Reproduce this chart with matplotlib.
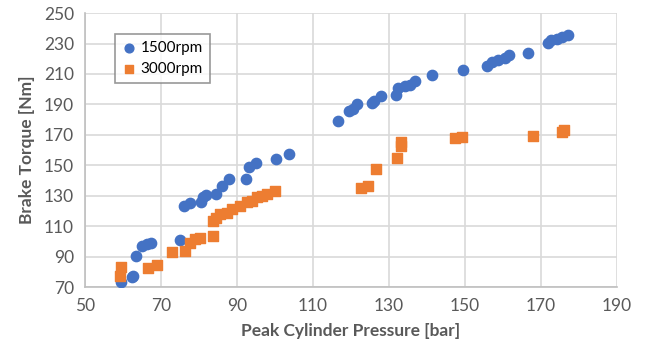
import matplotlib
matplotlib.use('Agg')
import matplotlib.pyplot as plt

# 1500 rpm: peak cylinder pressure [bar], brake torque [Nm]
p1500 = [59.5, 62.3, 62.7, 63.4, 64.9, 66.2, 67.4, 75.0, 76.0, 77.6, 80.4, 81.1, 81.8,
         84.5, 86.0, 88.0, 92.4, 93.2, 94.9, 100.3, 103.6, 116.7, 119.6, 120.6, 121.7,
         125.4, 126.0, 127.9, 131.8, 132.4, 134.2, 135.5, 136.8, 141.2, 149.4, 155.7,
         157.0, 158.8, 160.5, 161.7, 166.7, 171.9, 172.5, 174.1, 175.4, 177.2]
t1500 = [73.5, 76.8, 77.5, 90.6, 97.0, 98.0, 99.0, 101.0, 123.6, 125.0, 126.0, 128.9, 130.6,
         131.0, 136.6, 141.2, 141.2, 148.6, 151.7, 153.9, 157.5, 178.8, 185.6, 187.1, 190.0,
         190.8, 192.2, 195.5, 196.0, 200.8, 201.9, 202.5, 205.1, 209.1, 212.4, 215.0,
         217.9, 219.0, 220.5, 222.3, 224.1, 230.4, 232.6, 233.3, 234.0, 235.5]

# 3000 rpm
p3000 = [59.2, 59.6, 66.7, 68.9, 72.8, 76.3, 77.6, 78.9, 80.3, 83.6, 83.8, 84.6, 85.5,
         87.3, 88.6, 90.8, 92.5, 93.9, 95.2, 96.5, 97.8, 100.0, 122.6, 124.4, 126.6,
         132.0, 133.2, 133.2, 147.4, 149.3, 167.8, 175.4, 176.0]
t3000 = [77.3, 83.2, 82.7, 84.5, 92.8, 93.7, 99.2, 101.4, 102.5, 103.4, 113.5, 115.3, 118.0,
         119.0, 121.2, 123.4, 125.6, 126.7, 128.9, 130.0, 131.1, 133.3, 135.0, 136.6, 147.6,
         154.6, 162.5, 165.6, 167.8, 168.5, 169.5, 172.2, 173.3]

xticks = list(range(50, 191, 20))
yticks = list(range(70, 251, 20))

plt.rcParams['font.family'] = ['Lato', 'DejaVu Sans']

fig = plt.figure(figsize=(6.45, 3.54), dpi=100)
ax = fig.add_axes([0.1318, 0.189, 0.8248, 0.774])

ax.scatter(p1500, t1500, s=55, marker='o', color='#4472C4', label='1500rpm', zorder=3)
ax.scatter(p3000, t3000, s=42, marker='s', color='#ED7D31', label='3000rpm', zorder=3)

ax.set_xlim(50, 190)
ax.set_ylim(70, 250)
ax.set_xticks(xticks)
ax.set_yticks(yticks)
ax.grid(True, color='#D9D9D9', linewidth=1.2, zorder=0)
ax.set_axisbelow(True)
for s in ['top', 'right']:
    ax.spines[s].set_visible(False)
for s in ['left', 'bottom']:
    ax.spines[s].set_color('#BFBFBF')
    ax.spines[s].set_linewidth(1.2)
ax.tick_params(length=0, labelsize=12.5, colors='#595959', pad=8)

ax.set_xlabel('Peak Cylinder Pressure [bar]', fontsize=12.5, fontweight='bold', color='#595959', labelpad=6)
ax.set_ylabel('Brake Torque [Nm]', fontsize=12.5, fontweight='bold', color='#595959', labelpad=6)

leg = ax.legend(loc='upper left', bbox_to_anchor=(0.056, 0.923), borderaxespad=0, frameon=True,
                fancybox=False, fontsize=11, handletextpad=0.25, handlelength=1.0, borderpad=0.45,
                labelspacing=0.45, markerscale=0.85)
leg.get_frame().set_edgecolor('#7F7F7F')
leg.get_frame().set_linewidth(1.2)

fig.savefig('out.png', dpi=100)
